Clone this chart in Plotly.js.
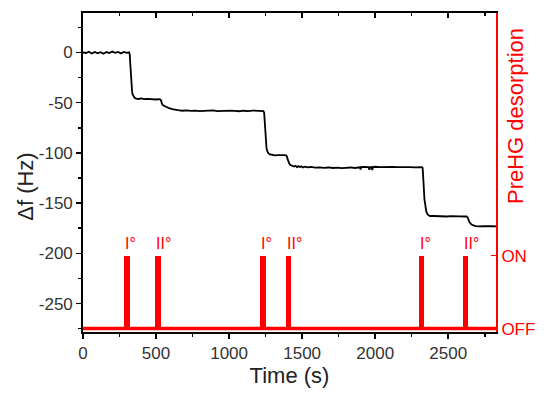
<!DOCTYPE html>
<html>
<head>
<meta charset="utf-8">
<script src="https://cdn.plot.ly/plotly-3.0.1.min.js"></script>
<style>html,body{margin:0;padding:0;background:#fff;}#chart{width:550px;height:398px;}</style>
</head>
<body>
<div id="chart"></div>
<script>
// Frequency shift trace (time in s, Δf in Hz)
const timeS = [0,20,40,60,80,100,120,140,160,180,200,220,240,260,280,300,315,320,324,328,332,336,340,348,356,365,380,400,420,440,460,480,500,520,530,535,540,548,560,575,590,610,630,650,680,710,740,770,800,830,860,890,920,950,980,1010,1040,1070,1100,1130,1160,1190,1215,1235,1240,1244,1248,1252,1256,1262,1270,1280,1295,1315,1335,1355,1375,1390,1396,1400,1405,1412,1420,1432,1445,1455,1465,1475,1485,1495,1505,1520,1540,1560,1590,1620,1650,1680,1710,1740,1770,1800,1830,1860,1880,1895,1900,1905,1920,1940,1955,1960,1965,1975,1980,1985,2000,2030,2060,2090,2120,2150,2180,2210,2240,2270,2300,2320,2325,2329,2333,2337,2342,2350,2360,2375,2400,2430,2460,2490,2520,2550,2580,2610,2625,2632,2638,2646,2658,2672,2690,2710,2740,2770,2800,2827];
const deltaF = [0,-0.5,0.8,-1,0.5,-0.8,0.3,-1.2,0.4,-0.6,0.9,-0.3,0.6,-0.9,0.5,-0.4,0.2,-2,-12,-25,-34,-39,-42,-44.5,-45.5,-46,-46.3,-45.8,-46.5,-46.2,-46.6,-46.3,-46.8,-46.5,-46.8,-48,-51,-52.5,-53.5,-54.5,-55.5,-56.5,-57.2,-57.5,-58,-57.6,-58.2,-57.8,-58.3,-57.9,-58.1,-57.7,-58.4,-58,-58.3,-57.9,-58.2,-58.5,-58,-58.3,-57.8,-58.1,-58,-58.3,-60,-70,-82,-90,-95,-98.5,-100.5,-101.5,-102,-102.5,-102.2,-102.6,-102.3,-102.5,-103.5,-106,-108.5,-110.5,-112,-113,-113.5,-112.8,-114.2,-113.2,-114,-113.4,-114.4,-113.6,-114.3,-114,-114.6,-114.3,-114.8,-114.5,-115,-114.6,-115.1,-114.8,-114.5,-115,-114.6,-114.3,-116.5,-114.2,-114,-114.4,-114.2,-116.8,-114.3,-114.1,-117,-114,-113.8,-114.2,-114,-114.3,-113.9,-114.2,-114,-114.4,-114.1,-114.3,-114,-114.2,-115,-122,-135,-146,-153,-158.5,-161.5,-162.8,-162.8,-163.2,-162.9,-163.3,-163,-163.4,-163.1,-163.3,-163.2,-164,-166.5,-169,-171,-172.2,-172.8,-173.2,-172.9,-173.3,-173,-173.2];

// PreHG desorption pulses (ON intervals, s)
const pulseStart = [279, 493, 1210, 1389, 2301, 2599];
const pulseEnd   = [319, 534, 1251, 1427, 2336, 2633];
const pulseLabel = ['I°', 'II°', 'I°', 'II°', 'I°', 'II°'];
const stateLabels = ['OFF', 'ON'];
const stateValues = [0, 1];
const timeRange = [0, 2827];
const yTickVals = [0, -50, -100, -150, -200, -250];
const yTickText = ['0', '-50', '-100', '-150', '-200', '-250'];

const RED = '#ff0000';
const FONT = 'Liberation Sans, Arial, sans-serif';

const traces = [
  {
    x: timeRange, y: [0, 0], yaxis: 'y2', type: 'scatter', mode: 'lines',
    line: {color: RED, width: 3.4}, hoverinfo: 'skip'
  },
  {
    x: pulseStart.map((s, i) => (s + pulseEnd[i]) / 2),
    width: pulseStart.map((s, i) => pulseEnd[i] - s),
    y: pulseStart.map(() => 1), base: 0,
    type: 'bar', yaxis: 'y2', marker: {color: RED, line: {width: 0}}
  },
  {
    x: timeS, y: deltaF, type: 'scatter', mode: 'lines', xaxis: 'x', yaxis: 'y',
    line: {color: '#000', width: 1.8}
  },
  {
    x: timeRange, y: [null, null], xaxis: 'x2', yaxis: 'y', type: 'scatter', mode: 'lines',
    hoverinfo: 'skip', showlegend: false
  }
];

const annotations = pulseStart.map((s, i) => ({
  x: s, y: 1, xref: 'x', yref: 'y2', text: pulseLabel[i], showarrow: false,
  xanchor: 'left', yanchor: 'bottom', yshift: 2, xshift: -1,
  font: {family: FONT, size: 16, color: RED}
}));
annotations.push({
  x: -0.139, y: 0.454, xref: 'paper', yref: 'paper', text: 'Δf (Hz)', showarrow: false,
  xanchor: 'center', yanchor: 'middle',
  textangle: -90, font: {family: FONT, size: 22, color: '#222'}
});
annotations.push({
  x: 1.046, y: 0.677, xref: 'paper', yref: 'paper', text: 'PreHG desorption', showarrow: false,
  xanchor: 'center', yanchor: 'middle',
  textangle: -90, font: {family: FONT, size: 22, color: RED}
});

const layout = {
  width: 550, height: 398,
  margin: {l: 83, r: 54, t: 13, b: 66, pad: 0},
  paper_bgcolor: '#fff', plot_bgcolor: '#fff',
  showlegend: false, bargap: 0,
  font: {family: FONT, size: 17, color: '#333'},
  xaxis: {
    range: timeRange, dtick: 500, tick0: 0,
    ticks: 'outside', ticklen: 5, tickwidth: 1.5, tickcolor: '#000',
    minor: {dtick: 250, ticks: 'outside', ticklen: 3, tickwidth: 1.5, tickcolor: '#000'},
    showline: true, linecolor: '#000', linewidth: 1.8,
    showgrid: false, zeroline: false,
    tickfont: {family: FONT, size: 17, color: '#333'},
    title: {text: 'Time (s)', font: {family: FONT, size: 22, color: '#222'}, standoff: 3}
  },
  xaxis2: {
    range: timeRange, overlaying: 'x', side: 'top', dtick: 500, tick0: 0,
    ticks: 'inside', ticklen: 5, tickwidth: 1.5, tickcolor: '#000',
    minor: {dtick: 250, ticks: 'inside', ticklen: 3, tickwidth: 1.5, tickcolor: '#000'},
    showline: true, linecolor: '#000', linewidth: 1.8,
    showticklabels: false, showgrid: false, zeroline: false
  },
  yaxis: {
    range: [-278.3, 39.3], tickmode: 'array', tickvals: yTickVals, ticktext: yTickText,
    ticks: 'outside', ticklen: 5, tickwidth: 1.5, tickcolor: '#000',
    minor: {tickmode: 'linear', tick0: 0, dtick: 25, ticks: 'outside', ticklen: 3, tickwidth: 1.5, tickcolor: '#000'},
    showline: true, linecolor: '#000', linewidth: 1.8,
    showgrid: false, zeroline: false,
    tickfont: {family: FONT, size: 17, color: '#333'}
  },
  yaxis2: {
    range: [-0.047, 4.327], overlaying: 'y', side: 'right',
    tickvals: stateValues, ticktext: stateLabels,
    ticks: 'inside', ticklen: 5, tickwidth: 1.5, tickcolor: RED,
    showline: true, linecolor: RED, linewidth: 2,
    showgrid: false, zeroline: false,
    tickfont: {family: FONT, size: 17, color: RED}
  },
  annotations: annotations
};

Plotly.newPlot('chart', traces, layout, {displayModeBar: false, staticPlot: true});
</script>
</body>
</html>
